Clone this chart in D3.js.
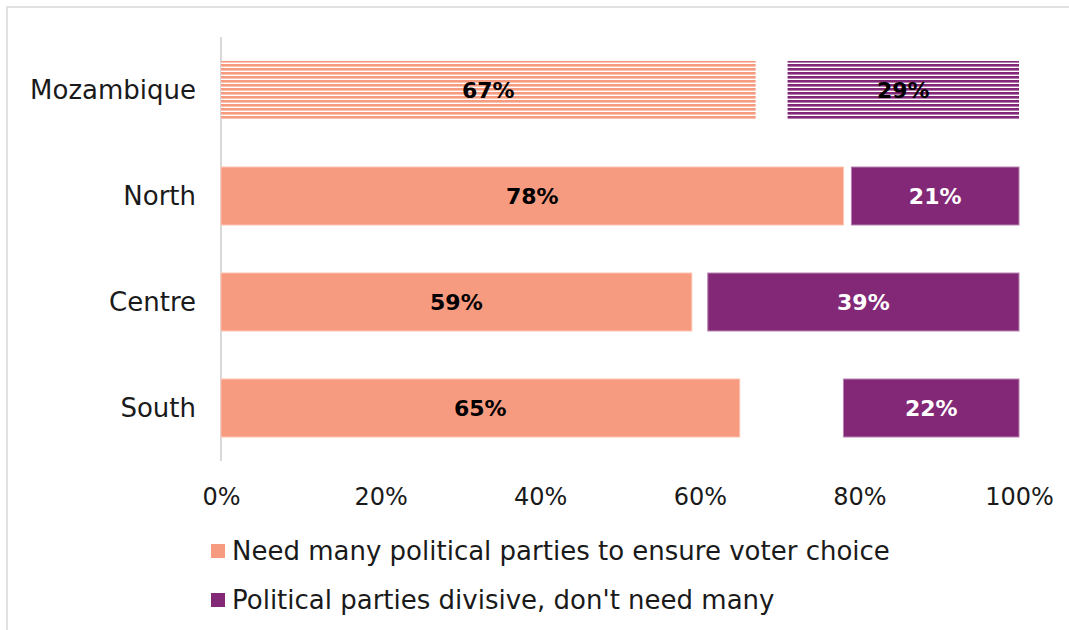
<!DOCTYPE html>
<html>
<head>
<meta charset="utf-8">
<script src="https://cdn.jsdelivr.net/npm/d3@7"></script>
<style>
  html, body { margin: 0; padding: 0; background: #fff; }
  svg { display: block; font-family: "DejaVu Sans", sans-serif; }
</style>
</head>
<body>
<svg id="chart" width="1069" height="630"></svg>
<script>
// Regions shown, top to bottom
const regions = ["Mozambique", "North", "Centre", "South"];
// Share saying many parties are needed (%)
const needMany = [67, 78, 59, 65];
// Share saying parties are divisive (%)
const divisive = [29, 21, 39, 22];
// Axis ticks
const ticks = [0, 20, 40, 60, 80, 100];
// Legend entries
const seriesNames = [
  "Need many political parties to ensure voter choice",
  "Political parties divisive, don't need many"
];

const ORANGE = "#f79b80";
const PURPLE = "#832877";

const svg = d3.select("#chart");

// frame
svg.append("rect")
  .attr("x", 7).attr("y", 7)
  .attr("width", 1080).attr("height", 640)
  .attr("fill", "none").attr("stroke", "#e1e1e1").attr("stroke-width", 2);

// striped fills for the national row
const defs = svg.append("defs");
function stripes(id, color) {
  const p = defs.append("pattern")
    .attr("id", id).attr("patternUnits", "userSpaceOnUse")
    .attr("width", 8).attr("height", 4);
  p.append("rect").attr("width", 8).attr("height", 4).attr("fill", "#fff");
  p.append("rect").attr("y", 0).attr("width", 8).attr("height", 2.6).attr("fill", color);
}
stripes("stripeOrange", ORANGE);
stripes("stripePurple", PURPLE);

const x = d3.scaleLinear().domain([0, 100]).range([221, 1019]);
const y = d3.scaleBand().domain(regions).range([37, 461])
  .paddingInner(0.453).paddingOuter(0.2265);

// vertical category axis line
svg.append("line")
  .attr("x1", x(0)).attr("x2", x(0))
  .attr("y1", y.range()[0]).attr("y2", y.range()[1])
  .attr("stroke", "#d9d9d9").attr("stroke-width", 2);

// category labels
svg.append("g").selectAll("text").data(regions).join("text")
  .attr("x", 196)
  .attr("y", d => y(d) + y.bandwidth() / 2)
  .attr("dy", "0.35em")
  .attr("text-anchor", "end")
  .attr("font-size", 26)
  .attr("fill", "#1a1a1a")
  .text(d => d);

const rows = regions.map((r, i) => ({ r, i, a: needMany[i], b: divisive[i] }));

// left bars: need many parties
svg.append("g").selectAll("rect").data(rows).join("rect")
  .attr("x", x(0))
  .attr("y", d => y(d.r))
  .attr("width", d => x(d.a) - x(0))
  .attr("height", y.bandwidth())
  .attr("fill", d => d.i === 0 ? "url(#stripeOrange)" : ORANGE)
  .attr("stroke", d => d.i === 0 ? "none" : "#fbc3b2")
  .attr("stroke-width", 1);

// right bars: parties divisive, anchored at 100%
svg.append("g").selectAll("rect").data(rows).join("rect")
  .attr("x", d => x(100 - d.b))
  .attr("y", d => y(d.r))
  .attr("width", d => x(100) - x(100 - d.b))
  .attr("height", y.bandwidth())
  .attr("fill", d => d.i === 0 ? "url(#stripePurple)" : PURPLE)
  .attr("stroke", d => d.i === 0 ? "none" : "#b784b0")
  .attr("stroke-width", 1);

// value labels
const lbl = svg.append("g").attr("font-weight", "bold").attr("font-size", 22);
lbl.selectAll("text.a").data(rows).join("text").attr("class", "a")
  .attr("x", d => (x(0) + x(d.a)) / 2)
  .attr("y", d => y(d.r) + y.bandwidth() / 2)
  .attr("dy", "0.36em").attr("text-anchor", "middle")
  .attr("fill", "#000")
  .text(d => d.a + "%");
lbl.selectAll("text.b").data(rows).join("text").attr("class", "b")
  .attr("x", d => (x(100 - d.b) + x(100)) / 2)
  .attr("y", d => y(d.r) + y.bandwidth() / 2)
  .attr("dy", "0.36em").attr("text-anchor", "middle")
  .attr("fill", d => d.i === 0 ? "#000" : "#fff")
  .text(d => d.b + "%");

// percentage axis
const xAxis = d3.axisBottom(x).tickValues(ticks).tickFormat(d => d + "%").tickSize(0).tickPadding(0);
const gx = svg.append("g").attr("transform", "translate(0,497)").call(xAxis);
gx.select(".domain").remove();
gx.selectAll("text")
  .attr("dy", "0.35em")
  .attr("font-size", 24)
  .attr("font-family", "DejaVu Sans, sans-serif")
  .attr("fill", "#1a1a1a");

// legend
const leg = svg.append("g").selectAll("g").data(seriesNames).join("g")
  .attr("transform", (d, i) => `translate(211,${551 + i * 49})`);
leg.append("rect")
  .attr("x", 0).attr("y", -7).attr("width", 14).attr("height", 14)
  .attr("fill", (d, i) => i === 0 ? ORANGE : PURPLE);
leg.append("text")
  .attr("x", 21).attr("dy", "0.35em")
  .attr("font-size", 26)
  .attr("fill", "#1a1a1a")
  .text(d => d);
</script>
</body>
</html>
